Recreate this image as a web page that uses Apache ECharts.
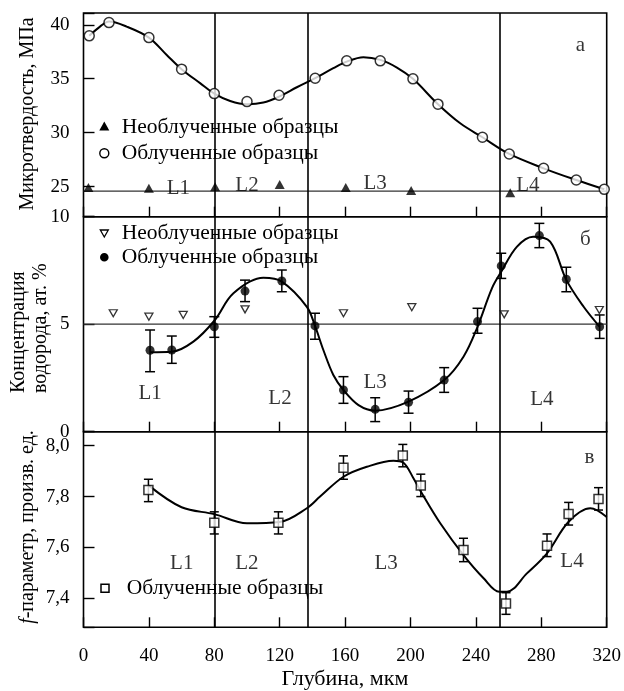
<!DOCTYPE html>
<html>
<head>
<meta charset="utf-8">
<script src="https://cdn.jsdelivr.net/npm/echarts@6/dist/echarts.min.js"></script>
<style>
  html, body { margin: 0; padding: 0; background: #fff; }
  #chart { width: 624px; height: 691px; }
</style>
</head>
<body>
<div id="chart"></div>
<script>
// ---- Panel а: microhardness, MPa ----
const hardIrrX = [3.5, 15.6, 40, 60, 80, 100, 119.6, 141.7, 161, 181.5, 201.5, 216.8, 244, 260.4, 281.4, 301.4, 318.5];
const hardIrrY = [38.98, 40.21, 38.82, 35.89, 33.62, 32.88, 33.47, 35.05, 36.66, 36.66, 34.99, 32.64, 29.57, 28.02, 26.69, 25.6, 24.74];
const hardRefX = [3, 40, 80.5, 120, 160.4, 200.4, 261];
const hardRefY = [24.92, 24.83, 24.99, 25.18, 24.92, 24.64, 24.42];
const hardFitX = [3.5, 10.1, 15.6, 26.4, 40, 50.9, 60, 71.3, 80, 89.7, 100, 110, 119.6, 130.5, 141.7, 152.8, 161, 171.2, 181.5, 191.7, 201.5, 216.8, 230.4, 244, 260.4, 281.4, 301.4, 318.5];
const hardFitY = [38.98, 39.84, 40.31, 39.84, 38.82, 37.21, 35.89, 34.59, 33.62, 32.94, 32.64, 32.79, 33.34, 34.21, 35.05, 35.98, 36.59, 37.0, 36.75, 36.04, 34.99, 32.64, 30.87, 29.57, 28.02, 26.69, 25.6, 24.74];
const hardBaseline = 24.57;

// ---- Panel б: hydrogen concentration, at. % ----
const hydIrrX = [40.7, 54, 80, 98.8, 121.3, 141.6, 159, 178.4, 198.8, 220.6, 241, 255.5, 278.8, 295.3, 315.7];
const hydIrrY = [3.79, 3.80, 4.88, 6.54, 7.01, 4.92, 1.94, 1.04, 1.37, 2.40, 5.12, 7.71, 9.12, 7.09, 4.88];
const hydIrrLo = [2.79, 3.18, 4.39, 6.05, 6.51, 4.30, 1.32, 0.47, 0.86, 1.83, 4.58, 7.13, 8.56, 6.51, 4.34];
const hydIrrHi = [4.73, 4.45, 5.35, 7.05, 7.52, 5.51, 2.56, 1.58, 1.89, 2.98, 5.74, 8.30, 9.69, 7.65, 5.43];
const hydRefX = [18.2, 40, 61, 98.8, 159, 200.8, 257.3, 315.5];
const hydRefY = [5.51, 5.35, 5.43, 5.69, 5.51, 5.79, 5.46, 5.66];
const hydFitX = [40.7, 54, 67.2, 80, 91.7, 110, 121.3, 136.6, 141.6, 146.7, 152.8, 159, 168.2, 178.4, 198.8, 220.6, 232.4, 241, 249.8, 255.5, 265, 275, 285.4, 295.3, 305.9, 315.7];
const hydFitY = [3.70, 3.72, 4.19, 5.16, 6.44, 7.16, 6.98, 5.81, 4.92, 3.80, 2.64, 1.94, 1.24, 0.98, 1.40, 2.40, 3.49, 4.88, 6.67, 7.44, 8.60, 9.07, 8.84, 7.06, 5.81, 4.88];
const hydBaseline = 5;

// ---- Panel в: f-parameter, arb. units ----
const fIrrX = [39.7, 80, 119.2, 159, 195.3, 206.3, 232.4, 258.4, 283.5, 296.7, 315];
const fIrrY = [7.826, 7.697, 7.697, 7.913, 7.961, 7.843, 7.59, 7.38, 7.607, 7.731, 7.79];
const fIrrLo = [7.78, 7.653, 7.653, 7.868, 7.917, 7.80, 7.544, 7.337, 7.564, 7.688, 7.747];
const fIrrHi = [7.868, 7.74, 7.74, 7.96, 8.005, 7.888, 7.636, 7.422, 7.653, 7.777, 7.835];
const fFitX = [40, 60, 80, 100, 120, 136.6, 144.7, 159, 173.3, 189.6, 195.7, 201.8, 206.3, 218.2, 232.4, 244.7, 254.3, 259, 271.2, 283.5, 296.7, 310, 320];
const fFitY = [7.843, 7.758, 7.731, 7.695, 7.70, 7.754, 7.80, 7.878, 7.917, 7.941, 7.933, 7.872, 7.82, 7.695, 7.57, 7.479, 7.426, 7.426, 7.498, 7.577, 7.701, 7.754, 7.72];

// ---- Shared ----
const layerBounds = [80, 137.2, 254.3];
const xTicks = [0, 40, 80, 120, 160, 200, 240, 280, 320];
const layerNames = ['L1', 'L2', 'L3', 'L4'];
const panelLetters = ['а', 'б', 'в'];
const legendRef = 'Необлученные образцы';
const legendIrr = 'Облученные образцы';

const FONT = 'Liberation Serif';
const zip = (xs, ys) => xs.map((x, i) => [x, ys[i]]);
const zip3 = (xs, a, b) => xs.map((x, i) => [x, a[i], b[i]]);

const chart = echarts.init(document.getElementById('chart'), null, { renderer: 'canvas' });

const GL = 83.5, GW = 523.2;
const grids = [
  { left: GL, width: GW, top: 13, height: 203.7 },
  { left: GL, width: GW, top: 216.7, height: 215 },
  { left: GL, width: GW, top: 431.7, height: 195.6 }
].map(g => Object.assign(g, { show: true, borderColor: '#000', borderWidth: 1.6, backgroundColor: 'transparent' }));

function xAxisFor(i) {
  return {
    type: 'value', gridIndex: i, min: xTicks[0], max: xTicks[xTicks.length - 1],
    interval: xTicks[1] - xTicks[0],
    axisLine: { show: false },
    axisTick: { inside: true, length: 10, lineStyle: { color: '#000', width: 1.4 } },
    axisLabel: { show: i === 2, color: '#000', fontFamily: FONT, fontSize: 19, margin: 19 },
    splitLine: { show: false }
  };
}

function yAxisBase(i) {
  return {
    type: 'value', gridIndex: i,
    axisLine: { show: false },
    axisTick: { inside: true, length: 11, lineStyle: { color: '#000', width: 1.4 } },
    axisLabel: { color: '#000', fontFamily: FONT, fontSize: 19, margin: 14, hideOverlap: false },
    splitLine: { show: false }
  };
}

const yAxes = [
  Object.assign(yAxisBase(0), {
    min: 22.2, max: 41.1, splitNumber: 4,
    axisLabel: Object.assign(yAxisBase(0).axisLabel, {
      formatter: v => (Math.abs(v / 5 - Math.round(v / 5)) < 1e-6 ? String(Math.round(v)) : '')
    })
  }),
  Object.assign(yAxisBase(1), { min: 0, max: 10, interval: 5 }),
  Object.assign(yAxisBase(2), {
    min: 7.286, max: 8.055, splitNumber: 4,
    axisLabel: Object.assign(yAxisBase(2).axisLabel, {
      formatter: v => {
        const k = v / 0.2;
        return Math.abs(k - Math.round(k)) < 1e-6 ? v.toFixed(1).replace('.', ',') : '';
      }
    })
  })
];

function errorBars(capHalf) {
  return function (params, api) {
    const x = api.value(0);
    const p1 = api.coord([x, api.value(1)]);
    const p2 = api.coord([x, api.value(2)]);
    const st = { stroke: '#000', lineWidth: 1.5 };
    return {
      type: 'group',
      children: [
        { type: 'line', shape: { x1: p1[0], y1: p1[1], x2: p2[0], y2: p2[1] }, style: st },
        { type: 'line', shape: { x1: p1[0] - capHalf, y1: p1[1], x2: p1[0] + capHalf, y2: p1[1] }, style: st },
        { type: 'line', shape: { x1: p2[0] - capHalf, y1: p2[1], x2: p2[0] + capHalf, y2: p2[1] }, style: st }
      ]
    };
  };
}

function fitLine(i, xs, ys) {
  return {
    type: 'line', xAxisIndex: i, yAxisIndex: i, data: zip(xs, ys),
    smooth: 0.35, showSymbol: false, silent: true, z: 3,
    lineStyle: { color: '#000', width: 2 },
    markLine: {
      silent: true, symbol: 'none', label: { show: false },
      lineStyle: { color: '#000', width: 1.6, type: 'solid' },
      data: layerBounds.map(v => ({ xAxis: v }))
    }
  };
}

function baseLine(i, y) {
  return {
    type: 'line', xAxisIndex: i, yAxisIndex: i, silent: true, showSymbol: false, z: 1,
    data: [[xTicks[0], y], [xTicks[xTicks.length - 1], y]],
    lineStyle: { color: '#333', width: 1.2 }
  };
}

// Text annotations placed in data coordinates of each panel
const annot = [
  [[58, 24.84], [100, 25.14], [178.4, 25.3], [271.8, 25.14]],
  [[40.7, 1.79], [120.2, 1.55], [178.4, 2.28], [280.4, 1.51]],
  [[60.1, 7.538], [99.9, 7.538], [185.1, 7.538], [298.8, 7.544]]
];
const letterPos = [[303.9, 38.08], [306.9, 8.92], [309.5, 7.954]];

function annotations(i) {
  const items = annot[i].map((p, k) => ({ value: p, name: layerNames[k] }));
  items.push({ value: letterPos[i], name: panelLetters[i] });
  return {
    type: 'scatter', xAxisIndex: i, yAxisIndex: i, symbolSize: 0, silent: true, z: 6,
    data: items,
    label: {
      show: true, position: 'inside', formatter: p => p.name,
      color: '#000', fontFamily: FONT, fontSize: 21
    }
  };
}

const series = [
  // Panel а
  baseLine(0, hardBaseline),
  fitLine(0, hardFitX, hardFitY),
  {
    type: 'scatter', name: legendIrr, xAxisIndex: 0, yAxisIndex: 0, z: 5,
    data: zip(hardIrrX, hardIrrY), symbol: 'circle', symbolSize: 10,
    itemStyle: { color: '#fff', borderColor: '#000', borderWidth: 1.5 }
  },
  {
    type: 'scatter', name: legendRef, xAxisIndex: 0, yAxisIndex: 0, z: 5,
    data: zip(hardRefX, hardRefY), symbol: 'triangle', symbolSize: [10, 9],
    itemStyle: { color: '#000' }
  },
  annotations(0),

  // Panel б
  baseLine(1, hydBaseline),
  fitLine(1, hydFitX, hydFitY),
  {
    type: 'custom', xAxisIndex: 1, yAxisIndex: 1, z: 4, silent: true,
    renderItem: errorBars(5), encode: { x: 0, y: [1, 2] },
    data: zip3(hydIrrX, hydIrrLo, hydIrrHi)
  },
  {
    type: 'scatter', name: legendIrr, xAxisIndex: 1, yAxisIndex: 1, z: 5,
    data: zip(hydIrrX, hydIrrY), symbol: 'circle', symbolSize: 9,
    itemStyle: { color: '#000' }
  },
  {
    type: 'scatter', name: legendRef, xAxisIndex: 1, yAxisIndex: 1, z: 5,
    data: zip(hydRefX, hydRefY), symbol: 'triangle', symbolSize: [8, 7], symbolRotate: 180,
    itemStyle: { color: '#fff', borderColor: '#000', borderWidth: 1.3 }
  },
  annotations(1),

  // Panel в
  fitLine(2, fFitX, fFitY),
  {
    type: 'custom', xAxisIndex: 2, yAxisIndex: 2, z: 4, silent: true,
    renderItem: errorBars(4.5), encode: { x: 0, y: [1, 2] },
    data: zip3(fIrrX, fIrrLo, fIrrHi)
  },
  {
    type: 'scatter', name: legendIrr, xAxisIndex: 2, yAxisIndex: 2, z: 5,
    data: zip(fIrrX, fIrrY), symbol: 'rect', symbolSize: 9,
    itemStyle: { color: '#fff', borderColor: '#000', borderWidth: 1.5 }
  },
  annotations(2)
];

// Legend keys and axis titles
const TXT = 21.5;
const txt = (x, y, text, size, extra) => ({
  type: 'text', x, y, silent: true, z: 10,
  style: Object.assign({ text, fill: '#000', font: size + 'px "' + FONT + '"', textAlign: 'left', textVerticalAlign: 'middle' }, extra || {})
});
const vtxt = (x, y, text, size, align) => Object.assign(txt(x, y, text, size, { textAlign: align }), { rotation: Math.PI / 2 });

const graphic = [
  // panel а legend
  { type: 'polygon', silent: true, z: 10, shape: { points: [[99.3, 130.5], [109.3, 130.5], [104.3, 121.5]] }, style: { fill: '#000' } },
  txt(121.7, 127, legendRef, TXT),
  { type: 'circle', silent: true, z: 10, shape: { cx: 104.3, cy: 153.3, r: 4.5 }, style: { fill: '#fff', stroke: '#000', lineWidth: 1.4 } },
  txt(121.7, 153.5, legendIrr, TXT),
  // panel б legend
  { type: 'polygon', silent: true, z: 10, shape: { points: [[100.3, 230], [108.3, 230], [104.3, 237]] }, style: { fill: '#fff', stroke: '#000', lineWidth: 1.3 } },
  txt(121.7, 233.5, legendRef, TXT),
  { type: 'circle', silent: true, z: 10, shape: { cx: 104.3, cy: 257.3, r: 4.3 }, style: { fill: '#000' } },
  txt(121.7, 257.5, legendIrr, TXT),
  // panel в legend
  { type: 'rect', silent: true, z: 10, shape: { x: 101, y: 584.3, width: 8, height: 8 }, style: { fill: '#fff', stroke: '#000', lineWidth: 1.5 } },
  txt(126.7, 588.5, legendIrr, TXT),
  // axis titles
  txt(345, 679, 'Глубина, мкм', 22, { textAlign: 'center' }),
  vtxt(28, 114, 'Микротвердость, МПа', 20, 'center'),
  vtxt(19, 393, 'Концентрация', 20, 'left'),
  vtxt(41, 393, 'водорода, ат. %', 20, 'left'),
  {
    type: 'text', x: 28, y: 527, rotation: Math.PI / 2, silent: true, z: 10,
    style: {
      text: '{i|f}-параметр, произв. ед.', fill: '#000', font: '20px "' + FONT + '"',
      textAlign: 'center', textVerticalAlign: 'middle',
      rich: { i: { fontStyle: 'italic', fontFamily: FONT, fontSize: 20 } }
    }
  }
];

chart.setOption({
  animation: false,
  backgroundColor: '#fff',
  textStyle: { fontFamily: FONT },
  grid: grids,
  xAxis: [0, 1, 2].map(xAxisFor),
  yAxis: yAxes,
  series,
  graphic
});
</script>
</body>
</html>
